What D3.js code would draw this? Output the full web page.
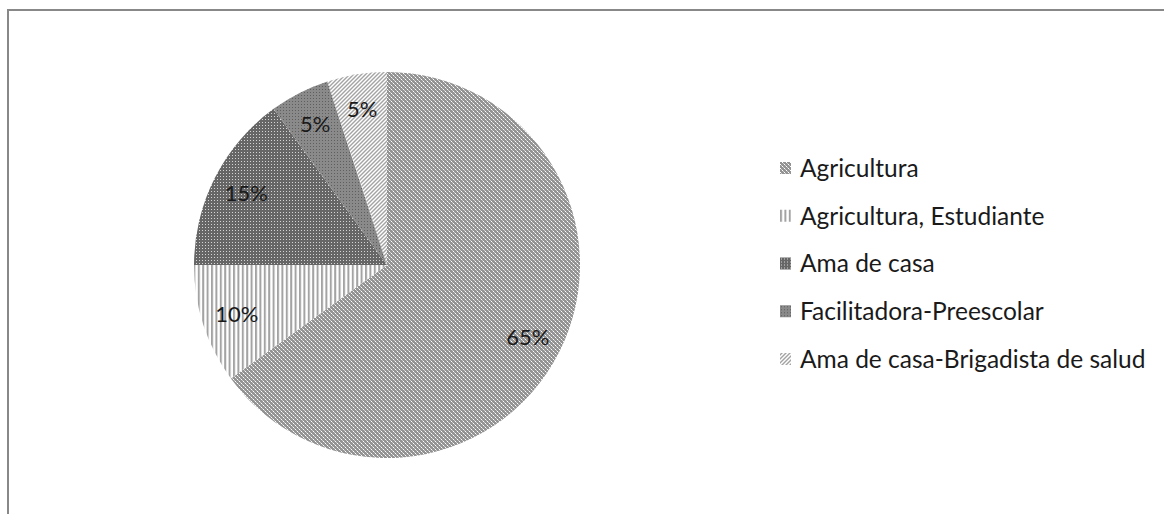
<!DOCTYPE html>
<html>
<head>
<meta charset="utf-8">
<script src="https://cdn.jsdelivr.net/npm/d3@7"></script>
<style>
  html, body { margin: 0; padding: 0; background: #fff; overflow: hidden; }
  svg { display: block; }
  text { font-family: Lato, "Open Sans", sans-serif; fill: #1a1a1a; }
</style>
</head>
<body>
<svg id="chart" width="1164" height="514"></svg>
<script>
const categories = ["Agricultura", "Agricultura, Estudiante", "Ama de casa", "Facilitadora-Preescolar", "Ama de casa-Brigadista de salud"];
const values = [65, 10, 15, 5, 5];
const valueLabels = ["65%", "10%", "15%", "5%", "5%"];
const patternIds = ["pAgri", "pEstu", "pAma", "pFac", "pBrig"];

const svg = d3.select("#chart");
const defs = svg.append("defs");

// Agricultura: grey dotted grid
let p = defs.append("pattern").attr("id", "pAgri").attr("width", 4).attr("height", 4).attr("patternUnits", "userSpaceOnUse");
p.append("rect").attr("width", 4).attr("height", 4).attr("fill", "#939393");
p.append("rect").attr("x", 0).attr("y", 0).attr("width", 1).attr("height", 1).attr("fill", "#ffffff");
p.append("rect").attr("x", 2).attr("y", 2).attr("width", 1).attr("height", 1).attr("fill", "#ffffff");
p.append("rect").attr("x", 1).attr("y", 1).attr("width", 1).attr("height", 1).attr("fill", "#cccccc");
p.append("rect").attr("x", 3).attr("y", 3).attr("width", 1).attr("height", 1).attr("fill", "#cccccc");

// Agricultura, Estudiante: vertical lines
p = defs.append("pattern").attr("id", "pEstu").attr("width", 4.4).attr("height", 4).attr("patternUnits", "userSpaceOnUse");
p.append("rect").attr("width", 4.4).attr("height", 4).attr("fill", "#ffffff");
p.append("rect").attr("x", 0).attr("width", 2).attr("height", 4).attr("fill", "#a3a3a3");

// Ama de casa: dark grey with light dots
p = defs.append("pattern").attr("id", "pAma").attr("width", 3).attr("height", 3).attr("patternUnits", "userSpaceOnUse");
p.append("rect").attr("width", 3).attr("height", 3).attr("fill", "#666666");
p.append("rect").attr("x", 1).attr("y", 1).attr("width", 1).attr("height", 1).attr("fill", "#d4d4d4");

// Facilitadora-Preescolar: grey with darker dots
p = defs.append("pattern").attr("id", "pFac").attr("width", 3).attr("height", 3).attr("patternUnits", "userSpaceOnUse");
p.append("rect").attr("width", 3).attr("height", 3).attr("fill", "#8a8a8a");
p.append("rect").attr("x", 1).attr("y", 1).attr("width", 1).attr("height", 1).attr("fill", "#5e5e5e");

// Brigadista: diagonal lines
p = defs.append("pattern").attr("id", "pBrig").attr("width", 4).attr("height", 4).attr("patternUnits", "userSpaceOnUse");
p.append("rect").attr("width", 4).attr("height", 4).attr("fill", "#ffffff");
p.append("path").attr("d", "M-1,1 l2,-2 M0,4 l4,-4 M3,5 l2,-2").attr("stroke", "#a3a3a3").attr("stroke-width", 1.4);

// frame
svg.append("rect").attr("x", 8).attr("y", 10).attr("width", 1200).attr("height", 600)
  .attr("fill", "none").attr("stroke", "#888888").attr("stroke-width", 2);

const cx = 387, cy = 265, R = 193;
const pie = d3.pie().sort(null).value(d => d)(values);
const arc = d3.arc().innerRadius(0).outerRadius(R);
const labelArc = d3.arc().innerRadius(158).outerRadius(158);

const g = svg.append("g").attr("transform", `translate(${cx},${cy})`);
g.selectAll("path.slice").data(pie).enter().append("path")
  .attr("class", "slice")
  .attr("d", arc)
  .attr("fill", (d, i) => `url(#${patternIds[i]})`);

g.selectAll("text.lbl").data(pie).enter().append("text")
  .attr("class", "lbl")
  .attr("transform", d => `translate(${labelArc.centroid(d)})`)
  .attr("text-anchor", "middle")
  .attr("dy", "0.36em")
  .style("font-size", "22px")
  .text((d, i) => valueLabels[i]);

// legend
const legend = svg.append("g").attr("transform", "translate(780,168)");
const rowScale = d3.scalePoint().domain(categories).range([0, 191]);
const item = legend.selectAll("g.item").data(categories).enter().append("g")
  .attr("class", "item")
  .attr("transform", d => `translate(0,${rowScale(d)})`);
item.append("rect").attr("x", 0).attr("y", -6).attr("width", 11).attr("height", 12)
  .attr("fill", (d, i) => `url(#${patternIds[i]})`);
item.append("text").attr("x", 20).attr("y", 0).attr("dy", "0.36em")
  .style("font-size", "24.5px")
  .text(d => d);
</script>
</body>
</html>
